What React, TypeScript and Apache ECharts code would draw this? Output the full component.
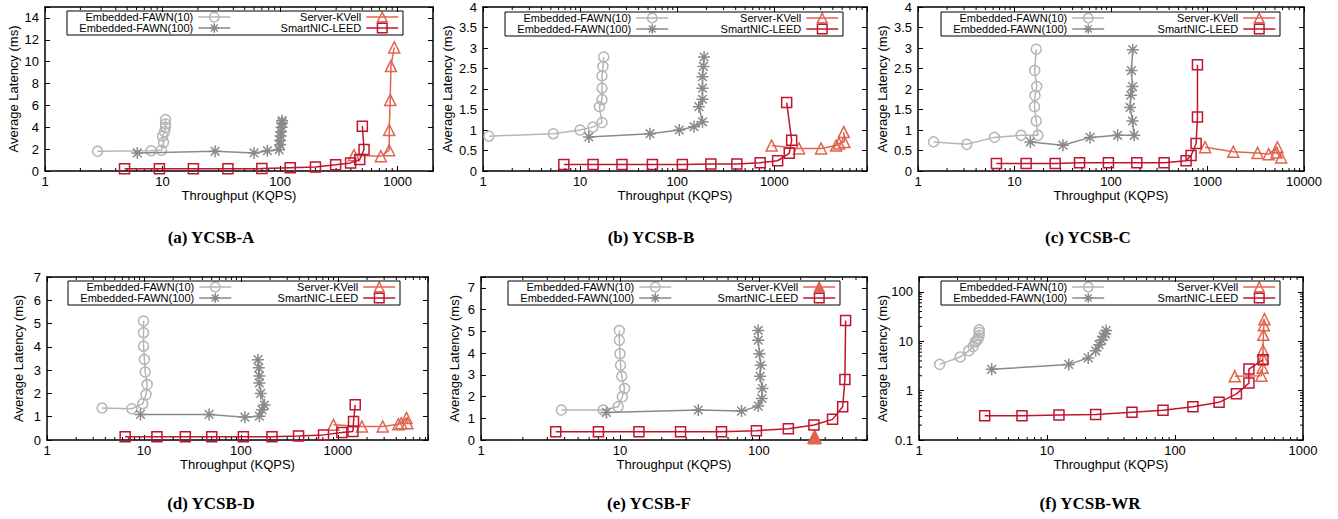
import React, { useEffect, useRef } from "react";
import * as echarts from "echarts";

const W = 1338;
const H = 519;

const SERIES_NAMES = ["Embedded-FAWN(10)", "Embedded-FAWN(100)", "Server-KVell", "SmartNIC-LEED"];
const X_NAME = "Throughput (KQPS)";
const Y_NAME = "Average Latency (ms)";
const CAPTIONS = ["(a) YCSB-A", "(b) YCSB-B", "(c) YCSB-C", "(d) YCSB-D", "(e) YCSB-F", "(f) YCSB-WR"];

// ---- data: [throughput KQPS, latency ms] ----
const aFawn10 = [[2.8, 1.8], [8.0, 1.85], [9.8, 1.9], [10.2, 2.6], [10.0, 3.2], [10.4, 3.6], [10.6, 4.0], [10.6, 4.3], [10.6, 4.7]];
const aFawn100 = [[6.1, 1.65], [28, 1.8], [60, 1.65], [78, 1.85], [98, 1.95], [100, 2.4], [100, 2.8], [101, 3.2], [102, 3.6], [103, 4.0], [104, 4.4], [104, 4.6]];
const aKvell = [[425, 1.45], [720, 1.35], [848, 1.9], [848, 3.75], [865, 6.5], [877, 9.6], [936, 11.3]];
const aLeed = [[4.75, 0.2], [9.4, 0.2], [18.3, 0.2], [36, 0.2], [70, 0.22], [122, 0.3], [200, 0.37], [297, 0.58], [398, 0.74], [476, 1.05], [518, 1.97], [501, 4.1]];

const bFawn10 = [[1.15, 0.85], [5.3, 0.91], [10, 1.0], [13.5, 1.07], [16.8, 1.18], [15.8, 1.57], [16.8, 1.74], [16.8, 2.02], [16.8, 2.32], [17.2, 2.55], [17.5, 2.78]];
const bFawn100 = [[12.3, 0.83], [52.5, 0.91], [105, 1.0], [149, 1.08], [182, 1.2], [167, 1.57], [182, 1.75], [182, 2.02], [182, 2.3], [186, 2.55], [189, 2.78]];
const bKvell = [[938, 0.62], [1795, 0.55], [3027, 0.55], [4327, 0.62], [4645, 0.67], [5265, 0.71], [5190, 0.95]];
const bLeed = [[6.8, 0.16], [13.6, 0.16], [27, 0.16], [55.5, 0.16], [113, 0.16], [222, 0.17], [411, 0.17], [715, 0.2], [1082, 0.25], [1425, 0.43], [1508, 0.75], [1340, 1.67]];

const cFawn10 = [[1.45, 0.71], [3.2, 0.65], [6.2, 0.82], [11.7, 0.87], [17.5, 0.87], [16.8, 1.22], [16.1, 1.57], [16.3, 1.84], [17, 2.06], [16.2, 2.45], [16.8, 2.97]];
const cFawn100 = [[14.6, 0.71], [31.8, 0.63], [60.8, 0.82], [117, 0.87], [174, 0.87], [167, 1.22], [158, 1.55], [160, 1.85], [167, 2.06], [163, 2.45], [168, 2.96]];
const cKvell = [[944, 0.58], [1850, 0.47], [3300, 0.44], [4300, 0.41], [5300, 0.58], [5200, 0.45], [5800, 0.33]];
const cLeed = [[6.5, 0.18], [13.2, 0.18], [26.4, 0.18], [47.2, 0.2], [94, 0.2], [185, 0.2], [355, 0.2], [600, 0.25], [676, 0.38], [762, 0.67], [787, 1.32], [787, 2.59]];

const dFawn10 = [[3.7, 1.37], [7.5, 1.34], [9.7, 1.56], [10.5, 1.95], [10.8, 2.38], [10.3, 2.92], [10.1, 3.46], [9.9, 4.03], [9.9, 4.61], [9.9, 5.11]];
const dFawn100 = [[9.2, 1.1], [47, 1.1], [110, 0.98], [155, 1.02], [165, 1.3], [175, 1.5], [160, 2.0], [155, 2.45], [155, 2.75], [153, 3.1], [150, 3.45]];
const dKvell = [[900, 0.65], [1770, 0.58], [2900, 0.58], [4200, 0.68], [4500, 0.72], [5100, 0.95], [5200, 0.72]];
const dLeed = [[6.4, 0.14], [13.6, 0.14], [26.7, 0.14], [50, 0.14], [106, 0.14], [209, 0.14], [393, 0.17], [711, 0.22], [1098, 0.32], [1429, 0.36], [1450, 0.79], [1510, 1.51]];

const eFawn10 = [[3.79, 1.38], [7.57, 1.38], [9.7, 1.53], [10.4, 1.99], [10.8, 2.37], [10.3, 2.93], [10.1, 3.44], [10, 3.97], [9.9, 4.59], [9.9, 5.04]];
const eFawn100 = [[8.0, 1.27], [36.6, 1.38], [75, 1.33], [99, 1.56], [105, 1.91], [106, 2.37], [102, 2.93], [103, 3.44], [101, 3.97], [99, 4.59], [99, 5.04]];
const eKvell = [[248, 0.1], [251, 0.12], [253, 0.14], [255, 0.1], [252, 0.08]];
const eLeed = [[3.45, 0.38], [7.0, 0.38], [13.7, 0.38], [27.3, 0.38], [53.8, 0.38], [96, 0.43], [163, 0.52], [249, 0.69], [339, 0.95], [401, 1.53], [416, 2.78], [421, 5.5]];

const fFawn10 = [[1.45, 3.4], [2.1, 4.8], [2.45, 6.4], [2.65, 7.8], [2.75, 9.8], [2.9, 11.5], [2.85, 10.5], [2.95, 13], [2.95, 15], [2.95, 17]];
const fFawn100 = [[3.7, 2.7], [14.8, 3.4], [21, 4.6], [24, 6.4], [25.5, 8.5], [26.8, 10.5], [27.5, 12.5], [28.5, 14], [29, 16.5]];
const fKvell = [[293, 1.95], [473, 2.0], [484, 2.9], [486, 4.5], [487, 6.5], [490, 13.5], [495, 21], [500, 28]];
const fLeed = [[3.26, 0.31], [6.38, 0.31], [12.4, 0.32], [24, 0.33], [46.1, 0.365], [80.6, 0.4], [138, 0.47], [221, 0.58], [302, 0.86], [378, 1.42], [378, 2.74], [487, 4.23]];

// ---- layout / style ----
const COLORS = ["#b5b5b5", "#8a8a8a", "#e0644e", "#c0152f"];
const STAR = "path://M0,-5L0,5M-5,0L5,0M-3.6,-3.6L3.6,3.6M-3.6,3.6L3.6,-3.6";
const SYMBOLS = ["circle", STAR, "triangle", "rect"];
const SYMBOL_SIZES = [10, 12, 11, 10];
const FONT = "Liberation Sans";

type Panel = {
  grid: number[];
  x: number[];
  y: { type: "value" | "log"; min: number; max: number; interval?: number };
  yNameX: number;
  box: number[];
  cap: number[];
  data: number[][][];
  kvellFilled?: boolean;
};

const PANELS: Panel[] = [
  { grid: [45, 7, 388, 164], x: [1, 2000], y: { type: "value", min: 0, max: 15, interval: 2 }, yNameX: 13, box: [67, 11, 336, 24], cap: [211, 237], data: [aFawn10, aFawn100, aKvell, aLeed] },
  { grid: [483, 7, 384, 164], x: [1, 9000], y: { type: "value", min: 0, max: 4, interval: 0.5 }, yNameX: 447, box: [505, 12, 338, 24], cap: [651, 237], data: [bFawn10, bFawn100, bKvell, bLeed] },
  { grid: [918, 7, 386, 164], x: [1, 10000], y: { type: "value", min: 0, max: 4, interval: 0.5 }, yNameX: 882, box: [941, 12, 339, 24], cap: [1088, 237], data: [cFawn10, cFawn100, cKvell, cLeed] },
  { grid: [47, 277, 381, 163], x: [1, 8500], y: { type: "value", min: 0, max: 7, interval: 1 }, yNameX: 18, box: [68, 281, 332, 24], cap: [211, 503], data: [dFawn10, dFawn100, dKvell, dLeed] },
  { grid: [481, 277, 386, 163], x: [1, 600], y: { type: "value", min: 0, max: 7.5, interval: 1 }, yNameX: 454, box: [508, 281, 332, 24], cap: [649, 503], data: [eFawn10, eFawn100, eKvell, eLeed], kvellFilled: true },
  { grid: [919, 277, 384, 163], x: [1, 1000], y: { type: "log", min: 0.1, max: 200 }, yNameX: 882, box: [941, 281, 339, 24], cap: [1090, 503], data: [fFawn10, fFawn100, fKvell, fLeed] },
];

const logFmt = (v: number) => {
  const l = Math.log10(v);
  if (Math.abs(l - Math.round(l)) > 1e-6) return "";
  return v >= 1 ? String(Math.round(v)) : String(Number(v.toPrecision(3)));
};

const minorLog = (min: number, max: number) => {
  const out: number[] = [];
  for (let e = Math.floor(Math.log10(min)); e <= Math.ceil(Math.log10(max)); e++) {
    for (let k = 2; k <= 9; k++) {
      const v = Number((k * Math.pow(10, e)).toPrecision(6));
      if (v > min && v < max) out.push(v);
    }
  }
  return out;
};

const axisLine = { show: true, onZero: false, lineStyle: { color: "#000", width: 1.5 } };
const axisTick = { show: true, inside: true, length: 5, lineStyle: { color: "#000", width: 1 } };
const labelStyle = { color: "#000", fontSize: 13, fontFamily: FONT };

function buildOption() {
  const grid: any[] = [];
  const xAxis: any[] = [];
  const yAxis: any[] = [];
  const series: any[] = [];
  const legend: any[] = [];
  const graphic: any[] = [];

  PANELS.forEach((p, i) => {
    grid.push({ left: p.grid[0], top: p.grid[1], width: p.grid[2], height: p.grid[3], containLabel: false, outerBoundsMode: "none", show: false });
    const baseX = { type: "log", logBase: 10, min: p.x[0], max: p.x[1], gridIndex: i, splitLine: { show: false }, axisLine, axisTick };
    xAxis.push({
      ...baseX, position: "bottom", name: X_NAME, nameLocation: "middle", nameGap: 13,
      nameTextStyle: labelStyle,
      axisLabel: { ...labelStyle, margin: 4, formatter: logFmt },
    });
    xAxis.push({ ...baseX, position: "top", axisLabel: { show: false } });

    const yIsLog = p.y.type === "log";
    const iv = p.y.interval || 1;
    const baseY: any = yIsLog
      ? { type: "log", logBase: 10, min: p.y.min, max: p.y.max }
      : { type: "value", min: p.y.min, max: p.y.max, interval: p.y.interval };
    Object.assign(baseY, { gridIndex: i, splitLine: { show: false }, axisLine, axisTick });
    yAxis.push({
      ...baseY, position: "left",
      axisLabel: {
        ...labelStyle, margin: 6,
        formatter: yIsLog ? logFmt : (v: number) => (Math.abs(v / iv - Math.round(v / iv)) < 1e-6 ? String(v) : ""),
      },
    });
    yAxis.push({ ...baseY, position: "right", axisLabel: { show: false } });

    const yRef = p.y.min;
    series.push({
      type: "custom", name: "minor-x-" + i, xAxisIndex: 2 * i, yAxisIndex: 2 * i, silent: true, z: 1,
      data: minorLog(p.x[0], p.x[1]).map((v) => [v, yRef]),
      renderItem: (params: any, api: any) => {
        const pt = api.coord([api.value(0), api.value(1)]);
        const cs = params.coordSys;
        const b = cs.y + cs.height;
        return {
          type: "group",
          children: [
            { type: "line", shape: { x1: pt[0], y1: b, x2: pt[0], y2: b - 3 }, style: { stroke: "#000", lineWidth: 1 } },
            { type: "line", shape: { x1: pt[0], y1: cs.y, x2: pt[0], y2: cs.y + 3 }, style: { stroke: "#000", lineWidth: 1 } },
          ],
        };
      },
    });
    if (yIsLog) {
      series.push({
        type: "custom", name: "minor-y-" + i, xAxisIndex: 2 * i, yAxisIndex: 2 * i, silent: true, z: 1,
        data: minorLog(p.y.min, p.y.max).map((v) => [p.x[0], v]),
        renderItem: (params: any, api: any) => {
          const pt = api.coord([api.value(0), api.value(1)]);
          const cs = params.coordSys;
          const r = cs.x + cs.width;
          return {
            type: "group",
            children: [
              { type: "line", shape: { x1: cs.x, y1: pt[1], x2: cs.x + 3, y2: pt[1] }, style: { stroke: "#000", lineWidth: 1 } },
              { type: "line", shape: { x1: r, y1: pt[1], x2: r - 3, y2: pt[1] }, style: { stroke: "#000", lineWidth: 1 } },
            ],
          };
        },
      });
    }

    for (let k = 0; k < 4; k++) {
      const filled = k === 2 && p.kvellFilled;
      const fill = filled ? COLORS[k] : "rgba(255,255,255,0)";
      series.push({
        type: "line", name: SERIES_NAMES[k], xAxisIndex: 2 * i, yAxisIndex: 2 * i,
        data: p.data[k], symbol: SYMBOLS[k], symbolSize: SYMBOL_SIZES[k], showAllSymbol: true,
        lineStyle: { color: COLORS[k], width: 1.5 },
        itemStyle: { color: fill, borderColor: COLORS[k], borderWidth: 1.5 },
        emphasis: { disabled: true }, z: 2 + k, clip: true,
      });

      const bx = p.box;
      const rightEnd = k < 2 ? bx[0] + 164 : bx[0] + bx[2] - 4;
      const rowC = bx[1] + (k % 2 === 0 ? 6.5 : 17.5);
      legend.push({
        show: true, data: [SERIES_NAMES[k]], right: W - rightEnd, top: rowC - 6,
        orient: "horizontal", align: "right", itemWidth: 32, itemHeight: 12, padding: 0,
        selectedMode: false,
        textStyle: { fontSize: 11, fontFamily: FONT, color: "#000" },
        itemStyle: { color: fill, borderColor: COLORS[k], borderWidth: 1.5 },
        lineStyle: { color: COLORS[k], width: 1.5 },
      });
    }

    graphic.push({
      type: "rect", silent: true, z: 10,
      shape: { x: p.box[0], y: p.box[1], width: p.box[2], height: p.box[3] },
      style: { fill: "none", stroke: "#000", lineWidth: 1 },
    });
    graphic.push({
      type: "text", silent: true, x: p.yNameX, y: p.grid[1] + p.grid[3] / 2, rotation: Math.PI / 2,
      style: { text: Y_NAME, font: '13px "Liberation Sans"', fill: "#000", textAlign: "center", textVerticalAlign: "middle", verticalAlign: "middle" },
    });
    graphic.push({
      type: "text", silent: true, x: p.cap[0], y: p.cap[1],
      style: { text: CAPTIONS[i], font: 'bold 17px "Liberation Serif"', fill: "#000", textAlign: "center", textVerticalAlign: "middle", verticalAlign: "middle" },
    });
  });

  return {
    animation: false,
    backgroundColor: "#fff",
    textStyle: { fontFamily: FONT },
    grid, xAxis, yAxis, series, legend, graphic,
  };
}

export default function App() {
  const ref = useRef<HTMLDivElement>(null);
  useEffect(() => {
    document.body.style.margin = "0";
    if (!ref.current) return;
    const chart = echarts.init(ref.current, undefined, { renderer: "svg" });
    chart.setOption(buildOption() as any);
    return () => chart.dispose();
  }, []);
  return <div ref={ref} style={{ width: W, height: H }} />;
}
